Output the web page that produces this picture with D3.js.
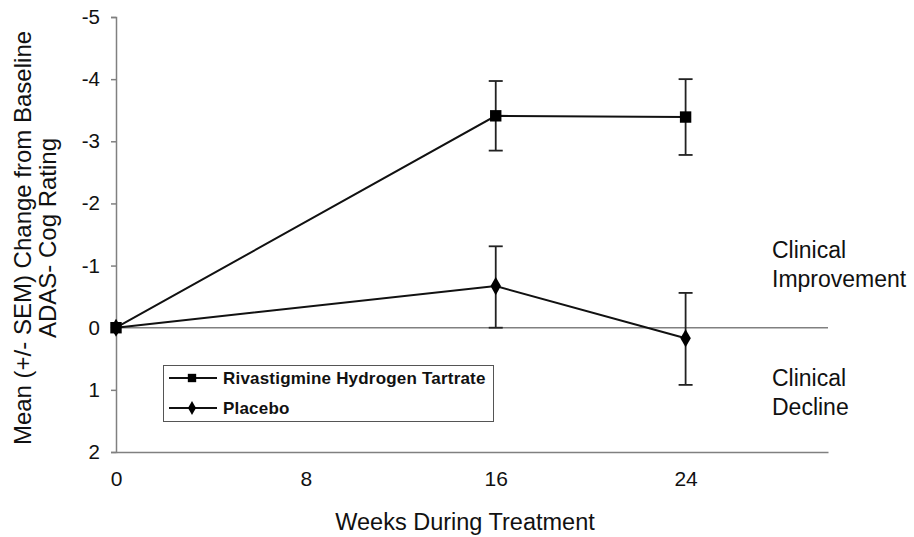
<!DOCTYPE html>
<html><head><meta charset="utf-8">
<script src="https://cdn.jsdelivr.net/npm/d3@7"></script>
<style>body{margin:0;background:#fff}svg{display:block}text{font-family:Arial,"Liberation Sans",sans-serif}</style>
</head><body><svg id="c" width="914" height="537"></svg>
<script>
const weeks = [0, 16, 24];
const rivaMean = [0, -3.41, -3.39];
const rivaUpper = [0, -3.97, -4.0];
const rivaLower = [0, -2.85, -2.78];
const placMean = [0, -0.67, 0.17];
const placUpper = [0, -1.31, -0.56];
const placLower = [0, 0.0, 0.92];
const xTicks = [0, 8, 16, 24];
const yTicks = [-5, -4, -3, -2, -1, 0, 1, 2];
const seriesNames = ["Rivastigmine Hydrogen Tartrate", "Placebo"];

const FONT = "Arial, 'Liberation Sans', sans-serif";
const svg = d3.select("#c");
const x = d3.scaleLinear().domain([0, 30]).range([116, 828]);
const y = d3.scaleLinear().domain([-5, 2]).range([17, 452]);
const axisCol = "#808080";
const fmt = d => String(d);

// y axis
const ya = svg.append("g").attr("transform", `translate(${x(0)},0)`)
  .call(d3.axisLeft(y).tickValues(yTicks).tickSize(5).tickPadding(11).tickFormat(fmt));
ya.select(".domain").attr("stroke", axisCol).attr("stroke-width", 1.5);
ya.selectAll(".tick line").attr("stroke", axisCol).attr("stroke-width", 1.5);
ya.selectAll("text").attr("font-size", 20.5).attr("fill", "#111").attr("font-family", FONT);

// x axis
const xa = svg.append("g").attr("transform", `translate(0,${y(2)})`)
  .call(d3.axisBottom(x).tickValues(xTicks).tickSize(0).tickPadding(19).tickFormat(fmt));
xa.select(".domain").attr("stroke", axisCol).attr("stroke-width", 1.5);
xa.selectAll("text").attr("font-size", 21).attr("fill", "#111").attr("font-family", FONT);

// zero line
svg.append("line").attr("x1", x(0)).attr("x2", x(30)).attr("y1", y(0)).attr("y2", y(0))
  .attr("stroke", axisCol).attr("stroke-width", 1.5);

// titles
svg.append("text").attr("x", 465).attr("y", 530).attr("text-anchor", "middle")
  .attr("font-size", 23.5).attr("fill", "#111").text("Weeks During Treatment");
const yt = svg.append("text").attr("transform", "translate(0,238) rotate(-90)")
  .attr("text-anchor", "middle").attr("font-size", 24).attr("fill", "#111");
yt.append("tspan").attr("x", 0).attr("y", 31).text("Mean (+/- SEM) Change from Baseline");
yt.append("tspan").attr("x", 0).attr("y", 56).text("ADAS- Cog Rating");

// clinical labels
[["Clinical", 258], ["Improvement", 287], ["Clinical", 386], ["Decline", 415]].forEach(([t, yy]) => {
  svg.append("text").attr("x", 772).attr("y", yy).attr("font-size", 23).attr("fill", "#111").text(t);
});

const line = d3.line().x(d => x(d[0])).y(d => y(d[1]));
function drawSeries(mean, up, lo, shape) {
  const g = svg.append("g");
  weeks.forEach((w, i) => {
    if (up[i] === lo[i]) return;
    g.append("line").attr("x1", x(w)).attr("x2", x(w)).attr("y1", y(up[i])).attr("y2", y(lo[i]))
      .attr("stroke", "#222").attr("stroke-width", 1.8);
    [up[i], lo[i]].forEach(v => g.append("line").attr("x1", x(w) - 7).attr("x2", x(w) + 7)
      .attr("y1", y(v)).attr("y2", y(v)).attr("stroke", "#222").attr("stroke-width", 1.8));
  });
  g.append("path").datum(weeks.map((w, i) => [w, mean[i]])).attr("d", line)
    .attr("fill", "none").attr("stroke", "#111").attr("stroke-width", 2);
  g.selectAll(".m").data(weeks.map((w, i) => [w, mean[i]])).enter().append("path")
    .attr("transform", d => `translate(${x(d[0])},${y(d[1])})`)
    .attr("d", d3.symbol().type(shape === "sq" ? d3.symbolSquare : d3.symbolDiamond).size(shape === "sq" ? 130 : 95))
    .attr("fill", "#000");
}
drawSeries(placMean, placUpper, placLower, "di");
drawSeries(rivaMean, rivaUpper, rivaLower, "sq");

// legend
const lg = svg.append("g");
lg.append("rect").attr("x", 163.5).attr("y", 365.5).attr("width", 330).attr("height", 56)
  .attr("fill", "#fff").attr("stroke", "#555").attr("stroke-width", 1);
seriesNames.forEach((n, i) => {
  const yy = 378 + i * 30;
  lg.append("line").attr("x1", 169).attr("x2", 217).attr("y1", yy).attr("y2", yy).attr("stroke", "#111").attr("stroke-width", 2);
  lg.append("path").attr("transform", `translate(192,${yy})`)
    .attr("d", d3.symbol().type(i === 0 ? d3.symbolSquare : d3.symbolDiamond).size(i === 0 ? 70 : 55)).attr("fill", "#000");
  lg.append("text").attr("x", 223).attr("y", yy + 6).attr("font-size", 17).attr("font-weight", "bold")
    .attr("letter-spacing", 0.2).attr("fill", "#111").text(n);
});
</script></body></html>
